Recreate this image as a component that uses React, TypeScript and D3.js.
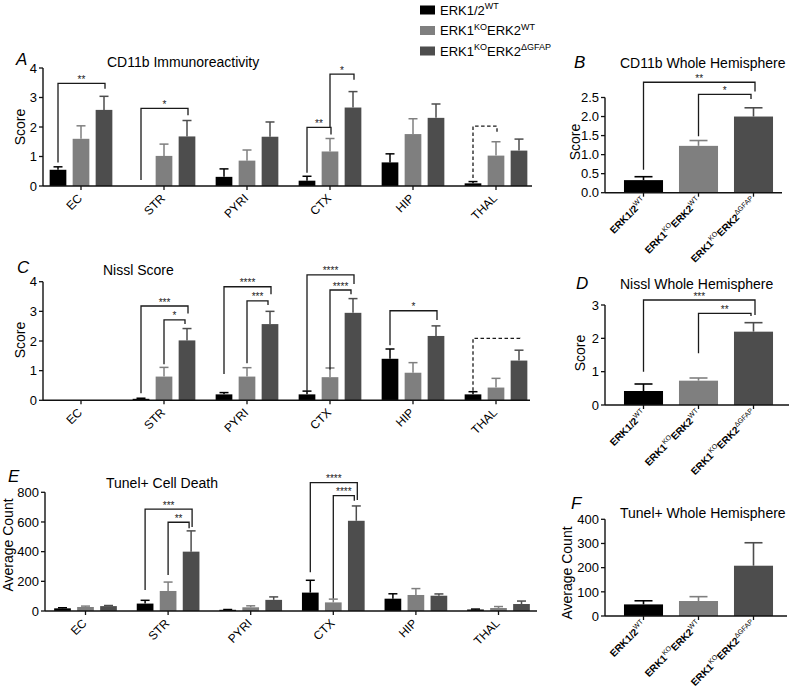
import React from "react";
import * as d3 from "d3";

const FONT = "'Liberation Sans', Arial, Helvetica, sans-serif";

const regions = ["EC", "STR", "PYRI", "CTX", "HIP", "THAL"];
const genotypeKeys = ["wt", "ko", "dko"];
const barColors = ["#000000", "#7f7f7f", "#4d4d4d"];

// Label parts: [text, isSuperscript]
const genotypeLabels: [string, boolean][][] = [
  [["ERK1/2", false], ["WT", true]],
  [["ERK1", false], ["KO", true], ["ERK2", false], ["WT", true]],
  [["ERK1", false], ["KO", true], ["ERK2", false], ["\u0394GFAP", true]],
];

// Panel A: CD11b Immunoreactivity (score)
const cd11bWT = [0.55, 0, 0.31, 0.18, 0.8, 0.09];
const cd11bWTErr = [0.1, 0, 0.27, 0.15, 0.29, 0.06];
const cd11bKO = [1.6, 1.02, 0.86, 1.17, 1.76, 1.03];
const cd11bKOErr = [0.44, 0.4, 0.36, 0.44, 0.52, 0.47];
const cd11bDKO = [2.58, 1.68, 1.67, 2.66, 2.31, 1.2];
const cd11bDKOErr = [0.46, 0.54, 0.5, 0.54, 0.47, 0.39];

// Panel C: Nissl Score
const nisslWT = [0, 0.05, 0.2, 0.2, 1.4, 0.2];
const nisslWTErr = [0, 0.02, 0.06, 0.11, 0.33, 0.09];
const nisslKO = [0, 0.8, 0.8, 0.78, 0.93, 0.43];
const nisslKOErr = [0, 0.31, 0.3, 0.31, 0.34, 0.31];
const nisslDKO = [0, 2.02, 2.57, 2.95, 2.17, 1.34];
const nisslDKOErr = [0, 0.4, 0.43, 0.48, 0.34, 0.35];

// Panel E: Tunel+ Cell Death (average count)
const tunelWT = [18, 50, 8, 124, 83, 10];
const tunelWTErr = [4, 22, 2, 83, 33, 3];
const tunelKO = [27, 135, 25, 58, 108, 20];
const tunelKOErr = [6, 60, 10, 22, 43, 10];
const tunelDKO = [33, 400, 75, 608, 103, 47];
const tunelDKOErr = [4, 140, 20, 100, 12, 20];

// Whole hemisphere panels
const cd11bWhole = [0.33, 1.23, 2.0];
const cd11bWholeErr = [0.09, 0.14, 0.23];
const nisslWhole = [0.42, 0.73, 2.2];
const nisslWholeErr = [0.21, 0.08, 0.27];
const tunelWhole = [48, 62, 208];
const tunelWholeErr = [15, 18, 95];

// Tick values
const scoreTicks4 = [0, 1, 2, 3, 4];
const countTicks800 = [0, 200, 400, 600, 800];
const scoreTicks25 = [0, 0.5, 1, 1.5, 2, 2.5];
const scoreTicks3 = [0, 1, 2, 3];
const countTicks400 = [0, 100, 200, 300, 400];

// Significance brackets: group, from series, to series, top value, left-leg end, right-leg end, label
type Bracket = { g?: string; a: number; b: number; y: number; ya: number; yb: number; label: string; dashed?: boolean; inner?: boolean };
const cd11bBrackets: Bracket[] = [
  { g: "EC", a: 0, b: 2, y: 3.48, ya: 0.8, yb: 3.3, label: "**" },
  { g: "STR", a: 0, b: 2, y: 2.63, ya: 0.2, yb: 2.4, label: "*" },
  { g: "CTX", a: 0, b: 1, y: 1.99, ya: 0.45, yb: 1.75, label: "**" },
  { g: "CTX", a: 1, b: 2, y: 3.79, ya: 1.99, yb: 3.6, label: "*" },
  { g: "THAL", a: 0, b: 1, y: 2.03, ya: 0.27, yb: 1.84, label: "", dashed: true },
];
const nisslBrackets: Bracket[] = [
  { g: "STR", a: 0, b: 2, y: 3.18, ya: 0.24, yb: 2.93, label: "***" },
  { g: "STR", a: 1, b: 2, y: 2.71, ya: 1.22, yb: 2.57, label: "*", inner: true },
  { g: "PYRI", a: 0, b: 2, y: 3.83, ya: 0.89, yb: 3.58, label: "****" },
  { g: "PYRI", a: 1, b: 2, y: 3.35, ya: 1.25, yb: 3.21, label: "***", inner: true },
  { g: "CTX", a: 0, b: 2, y: 4.23, ya: 0.29, yb: 3.92, label: "****" },
  { g: "CTX", a: 1, b: 2, y: 3.72, ya: 1.04, yb: 3.58, label: "****", inner: true },
  { g: "HIP", a: 0, b: 2, y: 3.02, ya: 1.86, yb: 2.71, label: "*" },
  { g: "THAL", a: 0, b: 2, y: 2.09, ya: 0.32, yb: 2.01, label: "", dashed: true },
];
const tunelBrackets: Bracket[] = [
  { g: "STR", a: 0, b: 2, y: 687, ya: 141, yb: 566, label: "***" },
  { g: "STR", a: 1, b: 2, y: 598, ya: 243, yb: 557, label: "**", inner: true },
  { g: "CTX", a: 0, b: 2, y: 865, ya: 261, yb: 748, label: "****" },
  { g: "CTX", a: 1, b: 2, y: 777, ya: 85, yb: 743, label: "****", inner: true },
];
const cd11bWholeBrackets: Bracket[] = [
  { a: 0, b: 2, y: 2.9, ya: 0.6, yb: 2.66, label: "**" },
  { a: 1, b: 2, y: 2.58, ya: 1.48, yb: 2.46, label: "*", inner: true },
];
const nisslWholeBrackets: Bracket[] = [
  { a: 0, b: 2, y: 3.15, ya: 1.0, yb: 2.7, label: "***" },
  { a: 1, b: 2, y: 2.75, ya: 1.55, yb: 2.67, label: "**", inner: true },
];

function Rich({ parts, size, supSize, weight, supWeight }: any) {
  const shift = size * 0.42;
  let raised = false;
  return (
    <>
      {parts.map(([t, sup]: [string, boolean], i: number) => {
        let dy = 0;
        if (sup && !raised) { dy = -shift; raised = true; }
        else if (!sup && raised) { dy = shift; raised = false; }
        return (
          <tspan key={i} dy={dy} fontSize={sup ? supSize : size} fontWeight={sup ? supWeight : weight}>
            {t}
          </tspan>
        );
      })}
    </>
  );
}

function BracketMark({ xa, xb, y, ya, yb, label, dashed }: any) {
  return (
    <g>
      <path
        d={`M${xa},${ya}V${y}H${xb}V${yb}`}
        fill="none"
        stroke="#1a1a1a"
        strokeWidth={1.3}
        strokeDasharray={dashed ? "3.5,2.5" : undefined}
      />
      {label && (
        <text x={(xa + xb) / 2} y={y - 0.5} textAnchor="middle" fontSize={10} fill="#1a1a1a">
          {label}
        </text>
      )}
    </g>
  );
}

function YAxis({ scale, ticks, x, fmt, fontSize }: any) {
  const r = scale.range();
  return (
    <g>
      <line x1={x} x2={x} y1={r[0]} y2={scale(ticks[ticks.length - 1])} stroke="#111" strokeWidth={1.4} />
      {ticks.map((t: number) => (
        <g key={t}>
          <line x1={x - 4} x2={x} y1={scale(t)} y2={scale(t)} stroke="#111" strokeWidth={1.3} />
          <text x={x - 6} y={scale(t)} dy="0.36em" textAnchor="end" fontSize={fontSize}>
            {fmt(t)}
          </text>
        </g>
      ))}
    </g>
  );
}

function GroupedPanel(props: any) {
  const { means, errs, brackets, ticks, axisX, y0, yTop, bandStart, step, baselineEnd, letter, letterPos, title, titlePos, yLabel, yLabelPos } = props;
  const yMax = ticks[ticks.length - 1];
  const y = d3.scaleLinear().domain([0, yMax]).range([y0, yTop]);
  const gx = d3.scaleBand().domain(regions).range([bandStart, bandStart + step * regions.length]).padding(0);
  const sx = d3.scalePoint().domain(genotypeKeys).range([-23, 23]);
  const bw = 16.7;
  const cx = (g: string, i: number) => (gx(g) as number) + gx.bandwidth() / 2 + (sx(genotypeKeys[i]) as number);
  return (
    <g>
      <text x={letterPos[0]} y={letterPos[1]} fontSize={17} fontStyle="italic">{letter}</text>
      <text x={titlePos[0]} y={titlePos[1]} fontSize={14}>{title}</text>
      <text transform={`translate(${yLabelPos[0]},${yLabelPos[1]}) rotate(-90)`} textAnchor="middle" fontSize={14}>{yLabel}</text>
      {means.map((arr: number[], si: number) =>
        arr.map((v: number, gi: number) => {
          const g = regions[gi];
          const c = cx(g, si);
          const e = errs[si][gi];
          return (
            <g key={`${si}-${gi}`}>
              {v > 0 && <rect x={c - bw / 2} y={y(v)} width={bw} height={y0 - y(v)} fill={barColors[si]} />}
              {e > 0 && (
                <g stroke={barColors[si]} strokeWidth={1.5}>
                  <line x1={c} x2={c} y1={y(v)} y2={y(v + e)} />
                  <line x1={c - 4.5} x2={c + 4.5} y1={y(v + e)} y2={y(v + e)} />
                </g>
              )}
            </g>
          );
        })
      )}
      <line x1={axisX} x2={baselineEnd} y1={y0} y2={y0} stroke="#111" strokeWidth={1.4} />
      <YAxis scale={y} ticks={ticks} x={axisX} fmt={d3.format("d")} fontSize={13} />
      {regions.map((g) => {
        const c = (gx(g) as number) + gx.bandwidth() / 2;
        return (
          <g key={g}>
            <line x1={c} x2={c} y1={y0} y2={y0 + 4} stroke="#111" strokeWidth={1.3} />
            <text transform={`translate(${c + 2},${y0 + 13}) rotate(-45)`} textAnchor="end" fontSize={12}>{g}</text>
          </g>
        );
      })}
      {brackets.map((b: Bracket, i: number) => {
        const xa = cx(b.g as string, b.a);
        const xb = cx(b.g as string, b.b) + (b.inner ? -2 : 1);
        return <BracketMark key={i} xa={xa} xb={xb} y={y(b.y)} ya={y(b.ya)} yb={y(b.yb)} label={b.label} dashed={b.dashed} />;
      })}
    </g>
  );
}

function WholePanel(props: any) {
  const { means, errs, brackets, ticks, fmt, y0, yTop, axisEnd, letter, letterPos, title, titlePos, yLabel, yLabelPos } = props;
  const axisX = 605;
  const yMax = ticks[ticks.length - 1];
  const y = d3.scaleLinear().domain([0, yMax]).range([y0, yTop]);
  const x = d3.scaleBand().domain(genotypeKeys).range([616, 781]).padding(0);
  const bw = x.bandwidth() * 0.71;
  const cx = (i: number) => (x(genotypeKeys[i]) as number) + x.bandwidth() / 2;
  return (
    <g>
      <text x={letterPos[0]} y={letterPos[1]} fontSize={17} fontStyle="italic">{letter}</text>
      <text x={titlePos[0]} y={titlePos[1]} fontSize={14}>{title}</text>
      <text transform={`translate(${yLabelPos[0]},${yLabelPos[1]}) rotate(-90)`} textAnchor="middle" fontSize={14}>{yLabel}</text>
      {means.map((v: number, i: number) => {
        const c = cx(i);
        const e = errs[i];
        return (
          <g key={i}>
            <rect x={c - bw / 2} y={y(v)} width={bw} height={y0 - y(v)} fill={barColors[i]} />
            <g stroke={barColors[i]} strokeWidth={1.6}>
              <line x1={c} x2={c} y1={y(v)} y2={y(v + e)} />
              <line x1={c - 9} x2={c + 9} y1={y(v + e)} y2={y(v + e)} />
            </g>
          </g>
        );
      })}
      <line x1={axisX} x2={axisEnd} y1={y0} y2={y0} stroke="#111" strokeWidth={1.4} />
      <YAxis scale={y} ticks={ticks} x={axisX} fmt={fmt} fontSize={13} />
      {genotypeKeys.map((k, i) => {
        const c = cx(i);
        return (
          <g key={k}>
            <line x1={c} x2={c} y1={y0} y2={y0 + 4} stroke="#111" strokeWidth={1.3} />
            <text transform={`translate(${c + 3},${y0 + 9}) rotate(-45)`} textAnchor="end">
              <Rich parts={genotypeLabels[i]} size={10} supSize={7} weight="bold" supWeight="normal" />
            </text>
          </g>
        );
      })}
      {brackets.map((b: Bracket, i: number) => {
        const xa = cx(b.a);
        const xb = cx(b.b) + (b.inner ? -2.5 : 1.5);
        return <BracketMark key={i} xa={xa} xb={xb} y={y(b.y)} ya={y(b.ya)} yb={y(b.yb)} label={b.label} dashed={b.dashed} />;
      })}
    </g>
  );
}

export default function App() {
  const legendY = [10, 30.5, 51];
  return (
    <svg
      width={793}
      height={693}
      style={{ position: "absolute", left: 0, top: 0, background: "#fff" }}
      fontFamily={FONT}
    >
      {/* Legend */}
      {genotypeKeys.map((k, i) => (
        <g key={k}>
          <rect x={420} y={legendY[i] - 4.5} width={15} height={9} fill={barColors[i]} />
          <text x={440} y={legendY[i] + 4.5} fontSize={13}>
            <Rich parts={genotypeLabels[i]} size={13} supSize={9} weight="normal" supWeight="normal" />
          </text>
        </g>
      ))}

      <GroupedPanel
        means={[cd11bWT, cd11bKO, cd11bDKO]}
        errs={[cd11bWTErr, cd11bKOErr, cd11bDKOErr]}
        brackets={cd11bBrackets}
        ticks={scoreTicks4}
        axisX={43}
        y0={186}
        yTop={68}
        bandStart={39.5}
        step={83}
        baselineEnd={532}
        letter="A"
        letterPos={[16, 65]}
        title="CD11b Immunoreactivity"
        titlePos={[107, 67]}
        yLabel="Score"
        yLabelPos={[25, 127]}
      />
      <GroupedPanel
        means={[nisslWT, nisslKO, nisslDKO]}
        errs={[nisslWTErr, nisslKOErr, nisslDKOErr]}
        brackets={nisslBrackets}
        ticks={scoreTicks4}
        axisX={43}
        y0={400.3}
        yTop={281.7}
        bandStart={39.5}
        step={83}
        baselineEnd={530}
        letter="C"
        letterPos={[17, 273]}
        title="Nissl Score"
        titlePos={[103, 275]}
        yLabel="Score"
        yLabelPos={[25, 340]}
      />
      <GroupedPanel
        means={[tunelWT, tunelKO, tunelDKO]}
        errs={[tunelWTErr, tunelKOErr, tunelDKOErr]}
        brackets={tunelBrackets}
        ticks={countTicks800}
        axisX={45}
        y0={611}
        yTop={492.3}
        bandStart={44.2}
        step={82.6}
        baselineEnd={537}
        letter="E"
        letterPos={[8, 482]}
        title="Tunel+ Cell Death"
        titlePos={[106, 488]}
        yLabel="Average Count"
        yLabelPos={[13, 545]}
      />

      <WholePanel
        means={cd11bWhole}
        errs={cd11bWholeErr}
        brackets={cd11bWholeBrackets}
        ticks={scoreTicks25}
        fmt={d3.format(".1f")}
        y0={192.7}
        yTop={97.5}
        axisEnd={782}
        letter="B"
        letterPos={[574, 68]}
        title="CD11b Whole Hemisphere"
        titlePos={[620, 68]}
        yLabel="Score"
        yLabelPos={[580, 142]}
      />
      <WholePanel
        means={nisslWhole}
        errs={nisslWholeErr}
        brackets={nisslWholeBrackets}
        ticks={scoreTicks3}
        fmt={d3.format("d")}
        y0={405}
        yTop={305}
        axisEnd={789}
        letter="D"
        letterPos={[576, 289]}
        title="Nissl Whole Hemisphere"
        titlePos={[620, 289]}
        yLabel="Score"
        yLabelPos={[585, 353]}
      />
      <WholePanel
        means={tunelWhole}
        errs={tunelWholeErr}
        brackets={[]}
        ticks={countTicks400}
        fmt={d3.format("d")}
        y0={616}
        yTop={519.3}
        axisEnd={787}
        letter="F"
        letterPos={[571, 509]}
        title="Tunel+ Whole Hemisphere"
        titlePos={[620, 518]}
        yLabel="Average Count"
        yLabelPos={[572, 573]}
      />
    </svg>
  );
}
